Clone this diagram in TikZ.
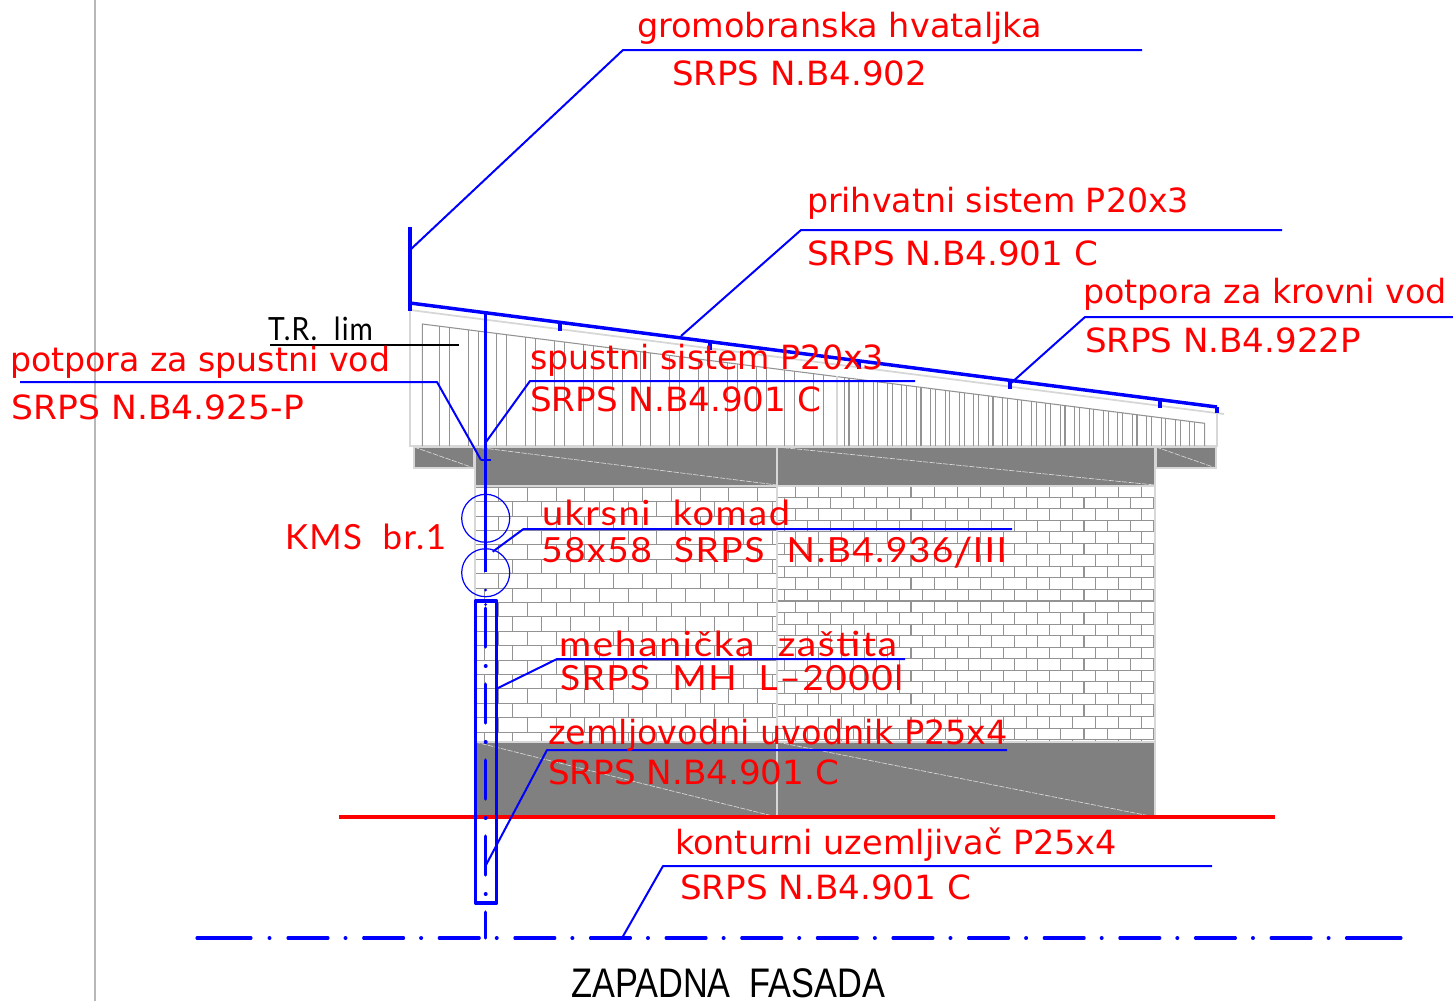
\documentclass[tikz,border=0pt]{standalone}
\usepackage{fontspec}
\usepackage{graphicx}
\setmainfont{DejaVu Sans}
\newfontfamily\cadfont[LetterSpace=4]{Lato}
\newfontfamily\capfont{Liberation Sans}
\definecolor{cadblue}{RGB}{0,0,255}
\definecolor{cadred}{RGB}{255,0,0}
\definecolor{wallgray}{RGB}{128,128,128}
\definecolor{edgegray}{RGB}{215,215,215}
\newcommand\fitw[2]{\resizebox{\dimexpr #1pt*3/4\relax}{\height}{#2}}
\tikzset{
  lbl/.style={anchor=base west,inner sep=0pt,outer sep=0pt,text=cadred,yshift=0.5pt,font=\fontsize{25}{25}\selectfont},
  cadlbl/.style={anchor=base west,inner sep=0pt,outer sep=0pt,text=cadred,font=\cadfont\fontsize{26}{26}\selectfont},
  leader/.style={draw=cadblue,line width=1.5pt,line join=round},
  heavy/.style={draw=cadblue,line width=2.6pt,line join=round},
  fine/.style={draw=wallgray!85!white,line width=0.8pt},
  edge/.style={draw=edgegray,line width=1.3pt},
  diag/.style={draw=white!70!gray,line width=0.5pt,dash pattern=on 4pt off 1pt},
  axisline/.style={draw=cadblue,line width=2.3pt,line cap=round},
}
\begin{document}
\begin{tikzpicture}[x=0.75pt,y=-0.75pt]
\useasboundingbox (0,0) rectangle (1453,1001);
\fill[white] (0,0) rectangle (1453,1001);
% page edge
\draw[draw=white!72!black,line width=1.2pt] (95,0) -- (95,1001);
% roof fascia
\draw[edge] (410,310) -- (1224,414);
\draw[edge] (410,310) -- (410,446) -- (1217,446) -- (1217,412);
% rafters
\draw[fine] (422.3,446) -- (422.3,324) -- (1204.7,423.3) -- (1204.7,446);
\foreach \k in {0,...,13}{
  \pgfmathsetmacro\xa{439.3+28.8*\k}
  \pgfmathsetmacro\ya{324+(\xa-422.3)*0.12693}
  \pgfmathsetmacro\xb{449.3+28.8*\k}
  \pgfmathsetmacro\yb{324+(\xb-422.3)*0.12693}
  \draw[fine] (\xa,\ya) -- (\xa,446);
  \draw[fine] (\xb,\yb) -- (\xb,446);
}
\draw[edge] (837,376) -- (837,446);
\foreach \k in {0,...,24}{
  \pgfmathsetmacro\xa{844.3+14.4*\k}
  \pgfmathsetmacro\ya{324+(\xa-422.3)*0.12693}
  \pgfmathsetmacro\xb{849+14.4*\k}
  \pgfmathsetmacro\yb{324+(\xb-422.3)*0.12693}
  \draw[fine] (\xa,\ya) -- (\xa,446);
  \draw[fine] (\xb,\yb) -- (\xb,446);
}
% brick wall, left bay
\begin{scope}
\clip (475,486) rectangle (777,742);
\foreach \r in {0,...,17}{
  \pgfmathsetmacro\yt{487.3+14.4*\r}
  \pgfmathsetmacro\yn{\yt+14.4}
  \draw[fine] (475,\yt) -- (777,\yt);
  \pgfmathsetmacro\off{mod(\r,2)==0 ? 0 : -14.4}
  \foreach \c in {-2,...,10}{
    \pgfmathsetmacro\xv{527.3+\off+28.8*\c}
    \draw[fine] (\xv,\yt) -- (\xv,\yn);
  }
}
\end{scope}
% brick wall, right bay
\begin{scope}
\clip (777,486) rectangle (1155,742);
\foreach \r in {0,...,22}{
  \pgfmathsetmacro\yt{485.5+11.55*\r}
  \pgfmathsetmacro\yn{\yt+11.55}
  \draw[fine] (777,\yt) -- (1155,\yt);
  \pgfmathsetmacro\off{mod(\r,2)==0 ? 0 : -11.53}
  \foreach \c in {-2,...,15}{
    \pgfmathsetmacro\xv{818.7+\off+23.07*\c}
    \draw[fine] (\xv,\yt) -- (\xv,\yn);
  }
}
\end{scope}
\draw[edge] (777,486) -- (777,742);
\draw[edge] (1155,486) -- (1155,742);
\draw[edge] (475,486) -- (475,742);
% lintel, eaves, plinth
\filldraw[fill=wallgray,edge] (414,447) rectangle (474,468);
\filldraw[fill=wallgray,edge] (1156,447) rectangle (1216,468);
\filldraw[fill=wallgray,edge] (475,447) rectangle (1155,486);
\filldraw[fill=wallgray,edge] (475,742) rectangle (1155,817);
\draw[edge] (777,447) -- (777,486);
\draw[edge] (777,742) -- (777,817);
\draw[diag] (414,447) -- (474,468);
\draw[diag] (1156,447) -- (1216,468);
\draw[diag] (475,447) -- (777,485);
\draw[diag] (777,447) -- (1155,485);
\draw[diag] (475,742) -- (777,817);
\draw[diag] (777,742) -- (1155,817);
% ground line
\draw[draw=cadred,line width=2.6pt] (339,817) -- (1275,817);
% lightning conductors
\draw[heavy] (410,227) -- (410,311);
\draw[heavy] (410,303) -- (1217,407);
\draw[heavy] (1217,407) -- (1217,413);
\foreach \xt/\yt in {560/322,710/341,859/360,1010/380,1160/399}{
  \pgfmathsetmacro\ye{\yt+9}
  \draw[draw=cadblue,line width=2.4pt] (\xt,\yt) -- (\xt,\ye);
}
\draw[heavy] (485.7,311) -- (485.7,572);
\draw[draw=cadblue,line width=2.2pt] (481,460) -- (491,460);
\draw[draw=cadblue,line width=0.9pt] (485.7,518.3) circle (24);
\draw[draw=cadblue,line width=0.9pt] (485.7,572.7) circle (24);
\draw[heavy] (475.5,601) rectangle (496.7,903);
% vertical dash-dot
\fill[cadblue] (485.7,590) circle (1.5) (485.7,604.5) circle (1.5);
\foreach \k in {0,...,3}{
  \pgfmathsetmacro\ya{608+76*\k}
  \pgfmathsetmacro\yb{\ya+39}
  \pgfmathsetmacro\yd{\ya+58}
  \draw[axisline] (485.7,\ya) -- (485.7,\yb);
  \fill[cadblue] (485.7,\yd) circle (2);
}
\draw[axisline] (485.7,912) -- (485.7,938);
% horizontal dash-dot
\draw[axisline] (197,938) -- (251,938);
\fill[cadblue] (269.5,938) circle (2);
\foreach \k in {0,...,13}{
  \pgfmathsetmacro\xa{288+75.62*\k}
  \pgfmathsetmacro\xb{\xa+40}
  \pgfmathsetmacro\xd{\xa+57.5}
  \draw[axisline] (\xa,938) -- (\xb,938);
  \fill[cadblue] (\xd,938) circle (2);
}
\draw[axisline] (1346.5,938) -- (1401,938);
% leaders
\draw[leader] (410,250) -- (623,50) -- (1142,50);
\draw[leader] (681,336) -- (801,230) -- (1282,230);
\draw[leader] (1010,384) -- (1085,317) -- (1453,317);
\draw[leader] (20,382) -- (437,382) -- (481,460);
\draw[leader] (486,442) -- (530,381) -- (915,381);
\draw[leader] (492.7,551.7) -- (523.5,529) -- (1012,529);
\draw[leader] (498,688) -- (557,659) -- (905,659);
\draw[leader] (486,865) -- (547,750) -- (1007,750);
\draw[leader] (622,938) -- (663,866) -- (1212,866);
\draw[draw=black,line width=1.5pt] (270,345) -- (459,345);
% labels
\node[lbl] (t1) at (637,38) {\fitw{405}{gromobranska hvataljka}};
\node[lbl] (t2) at (672,86) {\fitw{255}{SRPS N.B4.902}};
\node[lbl] (t3) at (807,213) {\fitw{382}{prihvatni sistem P20x3}};
\node[lbl] (t4) at (807,266) {\fitw{291}{SRPS N.B4.901 C}};
\node[lbl] (t5) at (1083,304) {\fitw{364}{potpora za krovni vod}};
\node[lbl] (t6) at (1085,353) {\fitw{276}{SRPS N.B4.922P}};
\node[lbl] (t7) at (10,372) {\fitw{380}{potpora za spustni vod}};
\node[lbl] (t8) at (12,420) {\fitw{292}{SRPS N.B4.925-P}};
\node[lbl] (t9) at (530,370) {\fitw{354}{spustni sistem P20x3}};
\node[lbl] (t10) at (530,412) {\fitw{291}{SRPS N.B4.901 C}};
\node[lbl] (t11) at (548,745) {\fitw{460}{zemljovodni uvodnik P25x4}};
\node[lbl] (t12) at (548,785) {\fitw{291}{SRPS N.B4.901 C}};
\node[lbl] (t13) at (675,855) {\fitw{442}{konturni uzemljivač P25x4}};
\node[lbl] (t14) at (680,900) {\fitw{291}{SRPS N.B4.901 C}};
\node[cadlbl] (t15) at (285,549) {\fitw{161}{KMS\ \ br.1}};
\node[cadlbl] (t16) at (542,525) {\fitw{248}{ukrsni\ \ komad}};
\node[cadlbl] (t17) at (541,562) {\fitw{466}{58x58\ \ SRPS\ \ N.B4.936\raisebox{-3pt}{\scalebox{1.15}{/}}III}};
\node[cadlbl] (t18) at (559,656) {\fitw{338}{mehanička\ \ zaštita}};
\node[cadlbl] (t19) at (560,690) {\fitw{343}{SRPS\ \ MH\ \ L–2000l}};
\node[cadlbl,text=black,font=\cadfont\fontsize{24}{24}\selectfont] (t20) at (268,340) {\fitw{105}{T.R.\ \ lim}};
\node[anchor=base west,inner sep=0pt,text=black,font=\capfont\fontsize{31}{31}\selectfont] (t21) at (571,997) {\fitw{314}{ZAPADNA\ \ FASADA}};
\end{tikzpicture}
\end{document}
